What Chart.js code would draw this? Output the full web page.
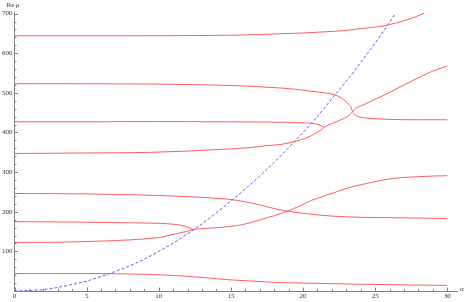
<!DOCTYPE html>
<html>
<head>
<meta charset="utf-8">
<script src="https://cdn.jsdelivr.net/npm/chart.js@4"></script>
<style>
  html, body { margin: 0; padding: 0; background: #fff; }
  canvas { display: block; }
</style>
</head>
<body>
<canvas id="chart" width="465" height="302"></canvas>
<script>
// tick labels
const xTicks = [0, 5, 10, 15, 20, 25, 30];
const yTicks = [100, 200, 300, 400, 500, 600, 700];

// red branches as [alpha, Re mu]
const branchA = [[0, 644], [4, 644], [8, 644], [12, 644.5], [16, 646], [18, 648.5], [20, 651], [21.5, 654],
  [23, 657.5], [24, 662], [25, 666], [25.6, 669], [26.4, 676], [27.2, 684], [27.8, 692], [28.4, 701]];
const branchB = [[0, 523], [4, 523], [8, 522.5], [10, 522], [12, 521], [14, 519.5], [16.4, 516.5], [18.5, 512],
  [19.5, 509], [20.6, 504], [21.5, 500], [22.2, 495], [22.6, 488], [22.9, 480], [23.2, 470], [23.35, 462],
  [23.42, 453], [23.6, 460], [24, 467], [24.5, 475], [25, 484], [25.5, 492], [26, 501], [27, 520],
  [28, 538], [29, 555], [30, 568]];
const branchC = [[0, 427], [5, 427], [10, 427.5], [14, 427], [16.4, 426.5], [18.5, 426], [20.3, 424], [20.8, 422],
  [21.1, 419.5], [21.3, 416.5], [21.45, 413], [21.6, 416], [21.9, 421], [22.4, 428], [22.8, 435], [23.1, 441],
  [23.3, 447], [23.42, 453], [23.5, 447], [23.7, 442], [24, 438.5], [24.5, 436], [25.4, 434], [26, 433],
  [28, 432], [30, 432]];
const branchD = [[0, 347], [4, 348], [8, 349], [9.5, 350], [12, 353], [14.1, 357], [16, 361], [17.6, 367],
  [18.5, 370], [19.4, 377], [19.9, 382], [20.4, 389], [20.8, 397], [21.1, 403], [21.3, 408], [21.45, 413]];
const branchE = [[0, 246], [5, 245], [8, 243], [10, 241], [12, 238], [14, 234], [15, 231], [16, 225], [17, 217],
  [18, 208], [19, 201], [20, 196], [21, 192], [22, 189], [24, 186], [26, 185], [28, 184], [30, 183]];
const branchF = [[0, 175], [4, 174], [8, 172], [10.2, 170.5], [11, 168.5], [11.6, 165.5], [12, 161], [12.4, 155]];
const branchG = [[0, 122.5], [3, 123], [6, 126], [8, 129], [9.5, 133], [10.2, 136], [10.9, 142], [11.5, 147],
  [12, 151], [12.4, 155], [13, 157.5], [14.1, 160], [15.5, 165.5], [16.3, 172], [17.1, 180.5], [18, 190],
  [18.9, 201.5], [19.8, 215], [20.6, 229], [21.5, 240], [22.3, 250], [23.1, 260], [24, 268], [25.4, 279],
  [26.5, 285], [27.7, 288], [29, 290], [30, 291]];
const branchH = [[0, 44], [5, 44], [8, 43], [10, 41], [12, 37], [14, 31], [15, 28], [16, 26], [18, 22], [20, 20],
  [22, 18.5], [24, 17], [26, 16], [28, 15], [30, 14]];

// blue dashed curve
const dashed = [[0, 0], [1.5, 2], [2.5, 6], [3.8, 15], [5, 25], [6.5, 43], [8.4, 70], [10.2, 104], [12.4, 154],
  [15, 227], [17, 290], [18.5, 343], [19.4, 377], [20.6, 424], [22.2, 494], [23.1, 534], [24.1, 582],
  [25.2, 636], [26.4, 700]];

const red = '#ff5c5c';
const blue = '#5a5aff';
const axisGrey = '#808080';
const labelFont = {family: 'Liberation Serif', size: 7, lineHeight: 1};

const toPts = arr => arr.map(([x, y]) => ({x, y}));
const redSet = arr => ({
  data: toPts(arr), borderColor: red, borderWidth: 1, showLine: true, pointRadius: 0,
  cubicInterpolationMode: 'monotone'
});

// inward major/minor ticks and axis names, Mathematica style
const axisDecor = {
  id: 'axisDecor',
  afterDraw(chart) {
    const {ctx, chartArea: area, scales: {x, y}} = chart;
    ctx.save();
    ctx.strokeStyle = axisGrey;
    ctx.lineWidth = 1;
    ctx.beginPath();
    for (let v = 0; v <= 30; v++) {
      const px = Math.round(x.getPixelForValue(v)) + 0.5;
      const len = v % 5 === 0 ? 3.5 : 2;
      ctx.moveTo(px, area.bottom);
      ctx.lineTo(px, area.bottom - len);
    }
    for (let v = 20; v <= 700; v += 20) {
      const py = Math.round(y.getPixelForValue(v)) + 0.5;
      const len = v % 100 === 0 ? 3.5 : 2;
      ctx.moveTo(area.left, py);
      ctx.lineTo(area.left + len, py);
    }
    ctx.stroke();

    ctx.fillStyle = '#333';
    ctx.textBaseline = 'middle';
    ctx.textAlign = 'left';
    ctx.font = '7px "Liberation Serif"';
    ctx.fillText('Re ', 6.5, 5);
    const w = ctx.measureText('Re ').width;
    ctx.font = 'italic 7px "Liberation Serif"';
    ctx.fillText('μ', 6.5 + w, 5);
    ctx.fillText('α', 460, 289);
    ctx.restore();
  }
};

new Chart(document.getElementById('chart'), {
  type: 'scatter',
  data: {
    datasets: [
      redSet(branchA), redSet(branchB), redSet(branchC), redSet(branchD),
      redSet(branchE), redSet(branchF), redSet(branchG), redSet(branchH),
      {
        data: toPts(dashed),
        borderColor: blue,
        borderWidth: 1,
        borderDash: [3, 2],
        showLine: true,
        pointRadius: 0,
        cubicInterpolationMode: 'monotone'
      }
    ]
  },
  options: {
    responsive: false,
    animation: false,
    devicePixelRatio: 1,
    layout: {padding: {top: 12, right: 8, left: 0, bottom: 0}},
    plugins: {
      legend: false,
      tooltip: {enabled: false}
    },
    scales: {
      x: {
        type: 'linear',
        min: 0,
        max: 30.67,
        afterBuildTicks: s => { s.ticks = xTicks.map(v => ({value: v})); },
        grid: {drawOnChartArea: false, drawTicks: false},
        border: {display: true, color: axisGrey, width: 1},
        ticks: {font: labelFont, color: '#333', padding: 2, maxRotation: 0, autoSkip: false}
      },
      y: {
        type: 'linear',
        min: 0,
        max: 704,
        afterBuildTicks: s => { s.ticks = yTicks.map(v => ({value: v})); },
        grid: {drawOnChartArea: false, drawTicks: false},
        border: {display: true, color: axisGrey, width: 1},
        ticks: {font: labelFont, color: '#333', padding: 2, autoSkip: false}
      }
    }
  },
  plugins: [axisDecor]
});
</script>
</body>
</html>
